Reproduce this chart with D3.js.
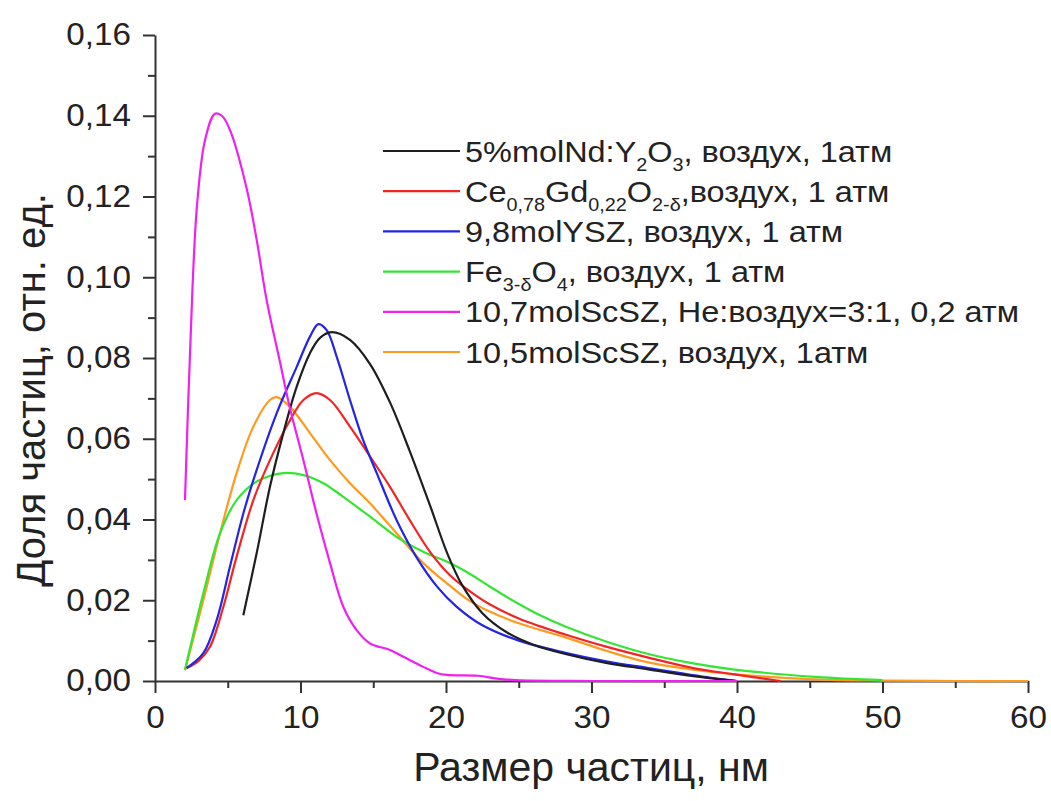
<!DOCTYPE html>
<html><head><meta charset="utf-8">
<script src="https://cdn.jsdelivr.net/npm/d3@7"></script>
<style>
html,body{margin:0;padding:0;background:#fff;}
svg{display:block;font-family:"Liberation Sans",Arial,sans-serif;}
</style></head>
<body>
<svg id="chart" width="1051" height="801"></svg>
<script>
// ---- data ----
const blackX = [6.07, 6.99, 7.9, 8.82, 9.74, 10.65, 11.34, 12.14, 13.4, 14.78, 16.15, 17.5, 18.9, 20.1, 21.1, 22.5, 24.2, 26, 28.2, 31, 33.9, 37, 40];
const blackY = [0.0163, 0.0317, 0.0481, 0.0614, 0.0729, 0.0812, 0.085, 0.0864, 0.0845, 0.0785, 0.069, 0.057, 0.0435, 0.0315, 0.0238, 0.0168, 0.0120, 0.0090, 0.0067, 0.0045, 0.0029, 0.0012, 0.0];

const redX = [2.17, 3.0, 3.78, 4.7, 5.61, 6.76, 7.9, 9.28, 10.2, 11.1, 12.03, 13.4, 14.78, 16.15, 17.5, 18.9, 20.27, 21.65, 23, 25, 28.2, 31, 33.9, 37, 39.7, 43];
const redY = [0.0032, 0.005, 0.0085, 0.0184, 0.0308, 0.0448, 0.0547, 0.0646, 0.0696, 0.0713, 0.0696, 0.063, 0.0556, 0.0481, 0.0399, 0.0320, 0.0262, 0.0222, 0.0190, 0.0155, 0.0115, 0.0085, 0.0058, 0.0032, 0.0017, 0];

const blueX = [2.17, 3.32, 4.24, 5.15, 6.07, 6.99, 8.36, 9.74, 10.65, 11.23, 11.8, 12.49, 13.4, 14.3, 15.24, 16.6, 18.0, 19.36, 20.7, 22.5, 25, 28.2, 31, 33.9, 38.2, 40];
const blueY = [0.0032, 0.0069, 0.0151, 0.0283, 0.0415, 0.0523, 0.0663, 0.0778, 0.0853, 0.0884, 0.0869, 0.0803, 0.0696, 0.0597, 0.0515, 0.0399, 0.0305, 0.0235, 0.0185, 0.0138, 0.0100, 0.0070, 0.0049, 0.0032, 0.0008, 0];

const greenX = [2.06, 3.32, 4.47, 5.61, 6.99, 8.82, 10.2, 11.57, 12.94, 14.78, 16.6, 18.44, 20.27, 21.65, 23, 24.8, 26.5, 28.2, 31, 33.9, 36.8, 39.7, 45.4, 50];
const greenY = [0.0027, 0.0217, 0.0366, 0.0448, 0.0494, 0.0515, 0.051, 0.049, 0.0456, 0.0407, 0.0357, 0.0320, 0.0292, 0.0265, 0.0234, 0.0195, 0.0162, 0.0135, 0.0098, 0.0067, 0.0045, 0.0029, 0.001, 0.0002];

const magentaX = [2.06, 2.4, 2.87, 3.44, 4.12, 4.6, 5.15, 6.3, 7.0, 7.67, 8.59, 9.28, 10.2, 11.1, 12.03, 12.94, 13.86, 14.78, 16.15, 17.07, 18.44, 19.36, 20.05, 22.2, 23.5, 24.8, 30, 40];
const magentaY = [0.0448, 0.0805, 0.117, 0.134, 0.1405, 0.140, 0.1365, 0.122, 0.109, 0.0944, 0.079, 0.0675, 0.0547, 0.0415, 0.0292, 0.0184, 0.0126, 0.0093, 0.0077, 0.006, 0.0035, 0.002, 0.0015, 0.0013, 0.0006, 0.0002, 0, 0];

const orangeX = [2.06, 3.32, 4.47, 5.61, 6.76, 7.9, 8.36, 9.28, 10.65, 12.03, 13.4, 14.78, 16.6, 18.44, 20.27, 21.65, 23, 25, 28.2, 31, 33.9, 37, 39.7, 45.4, 50, 55, 60];
const orangeY = [0.0027, 0.020, 0.0366, 0.0515, 0.063, 0.0696, 0.0703, 0.0679, 0.0614, 0.0547, 0.049, 0.044, 0.0366, 0.0292, 0.0236, 0.0198, 0.0172, 0.0143, 0.0108, 0.0075, 0.0046, 0.0028, 0.0017, 0.0004, 0.0001, 0, 0];

const xTicks = [0, 10, 20, 30, 40, 50, 60];
const xMinorTicks = [5, 15, 25, 35, 45, 55];
const yTicks = [0, 0.02, 0.04, 0.06, 0.08, 0.10, 0.12, 0.14, 0.16];
const yMinorTicks = [0.01, 0.03, 0.05, 0.07, 0.09, 0.11, 0.13, 0.15];

const seriesColors = ["#1e1e1e", "#f22424", "#2424e6", "#33e633", "#f020f0", "#ff9a1e"];
// legend labels as [text, isSubscript] parts
const legendLabels = [
  [["5%molNd:Y",0],["2",1],["O",0],["3",1],[", воздух, 1атм",0]],
  [["Ce",0],["0,78",1],["Gd",0],["0,22",1],["O",0],["2-δ",1],[",воздух, 1 атм",0]],
  [["9,8molYSZ, воздух, 1 атм",0]],
  [["Fe",0],["3-δ",1],["O",0],["4",1],[", воздух, 1 атм",0]],
  [["10,7molScSZ, He:воздух=3:1, 0,2 атм",0]],
  [["10,5molScSZ, воздух, 1атм",0]]
];
const xTitle = "Размер частиц, нм";
const yTitle = "Доля частиц, отн. ед.";

// ---- chart ----
const svg = d3.select("#chart");
const m = {left:155, right:1051-1028, top:35, bottom:801-681};
const W = 1051 - m.left - m.right, H = 801 - m.top - m.bottom;
const g = svg.append("g").attr("transform", `translate(${m.left},${m.top})`);

const x = d3.scaleLinear().domain([0,60]).range([0,W]);
const y = d3.scaleLinear().domain([0,0.16]).range([H,0]);

const fmtY = v => d3.format(".2f")(v).replace(".", ",");
const SX = 1.09;

// minor ticks
const gxMinor = g.append("g").attr("transform",`translate(0,${H})`)
  .call(d3.axisBottom(x).tickValues(xMinorTicks).tickSize(7).tickFormat(""));
const gyMinor = g.append("g")
  .call(d3.axisLeft(y).tickValues(yMinorTicks).tickSize(7).tickFormat(""));

const gx = g.append("g").attr("transform",`translate(0,${H})`)
  .call(d3.axisBottom(x).tickValues(xTicks).tickSize(12).tickSizeOuter(0).tickPadding(13).tickFormat(d3.format("d")));
const gy = g.append("g")
  .call(d3.axisLeft(y).tickValues(yTicks).tickSize(12).tickSizeOuter(0).tickPadding(12).tickFormat(fmtY));

[gxMinor, gyMinor, gx, gy].forEach(a => {
  a.selectAll("path.domain").attr("stroke","#333").attr("stroke-width",2);
  a.selectAll(".tick line").attr("stroke","#333").attr("stroke-width",2);
});
gxMinor.select("path.domain").remove();
gyMinor.select("path.domain").remove();
[gx, gy].forEach(a => a.selectAll(".tick text").attr("font-size",30.5).attr("fill","#222")
  .attr("font-family","Liberation Sans, Arial, sans-serif"));
gy.selectAll(".tick text").each(function(){
  const t = d3.select(this); const xx = +t.attr("x");
  t.attr("x",0).attr("transform",`translate(${xx},0) scale(${SX},1)`);
});
gx.selectAll(".tick text").each(function(){
  const t = d3.select(this); const yy = +t.attr("y");
  t.attr("y",0).attr("transform",`translate(0,${yy}) scale(${SX},1)`);
});

// lines
const allX = [blackX, redX, blueX, greenX, magentaX, orangeX];
const allY = [blackY, redY, blueY, greenY, magentaY, orangeY];
const line = d3.line().x(d=>x(d[0])).y(d=>y(Math.max(0,d[1]))).curve(d3.curveCatmullRom.alpha(0.5));
const order = [5,3,1,2,0,4];
order.forEach(i => {
  const pts = allX[i].map((v,k)=>[v, allY[i][k]]);
  g.append("path").datum(pts)
    .attr("fill","none").attr("stroke",seriesColors[i]).attr("stroke-width",2.2)
    .attr("stroke-linejoin","round").attr("d",line);
});

// legend
const lg = svg.append("g").attr("transform","translate(383,151)");
legendLabels.forEach((parts,i) => {
  const row = lg.append("g").attr("transform",`translate(0,${i*40.2})`);
  row.append("line").attr("x1",0).attr("x2",77).attr("y1",0).attr("y2",0)
    .attr("stroke",seriesColors[i]).attr("stroke-width",2.2);
  const t = row.append("text").attr("transform",`translate(82,10.5) scale(${SX + 0.01},1)`)
    .attr("font-size",29.5).attr("fill","#222");
  let prevSub = false;
  parts.forEach(p => {
    const ts = t.append("tspan").text(p[0]);
    if (p[1]) { ts.attr("font-size",18).attr("dy", prevSub ? 0 : 9); prevSub = true; }
    else { ts.attr("dy", prevSub ? -9 : 0); prevSub = false; }
  });
});

// axis titles
svg.append("text").attr("x", 591).attr("y", 781).attr("text-anchor","middle")
  .attr("font-size",41).attr("fill","#222").text(xTitle);
svg.append("text").attr("transform",`translate(45,390) rotate(-90)`).attr("text-anchor","middle")
  .attr("font-size",40).attr("fill","#222").text(yTitle);
</script>
</body></html>
